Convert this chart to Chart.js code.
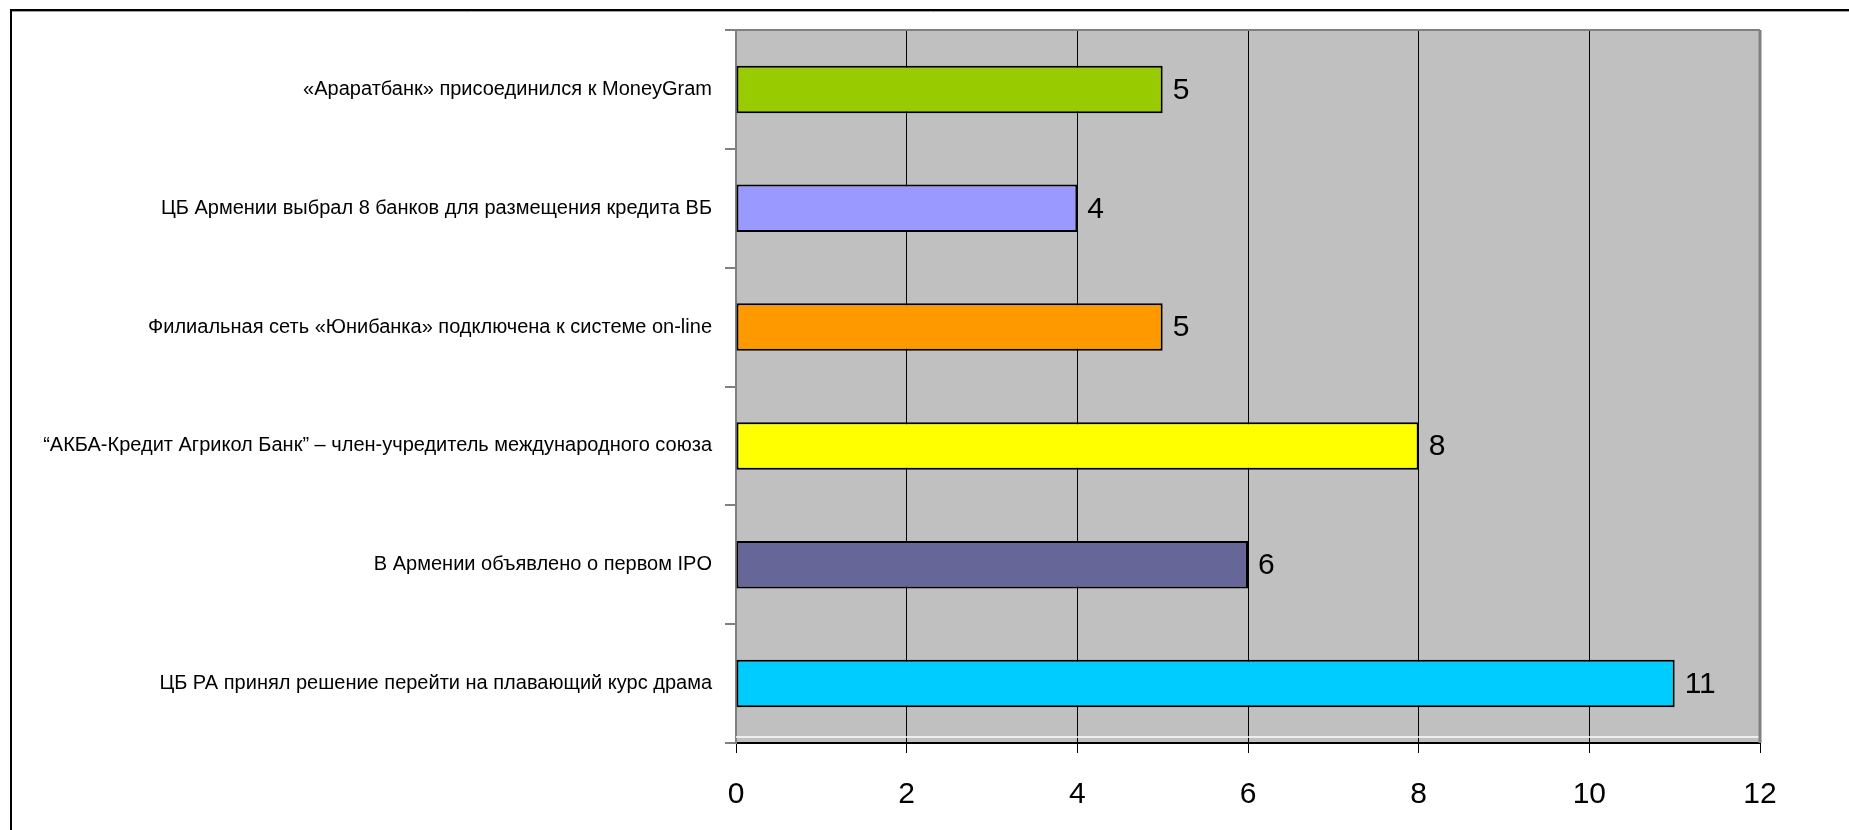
<!DOCTYPE html>
<html>
<head>
<meta charset="utf-8">
<script src="https://cdn.jsdelivr.net/npm/chart.js@4/dist/chart.umd.min.js"></script>
<style>
  html, body { margin: 0; padding: 0; background: #fff; }
  canvas { display: block; }
</style>
</head>
<body>
<canvas id="chart" width="1849" height="830"></canvas>
<script>
// data
const categories = [
  '«Араратбанк» присоединился к MoneyGram',
  'ЦБ Армении выбрал 8 банков для размещения кредита ВБ',
  'Филиальная сеть «Юнибанка» подключена к системе on-line',
  '“АКБА-Кредит Агрикол Банк” – член-учредитель международного союза',
  'В Армении объявлено о первом IPO',
  'ЦБ РА принял решение перейти на плавающий курс драма'
];
const values = [5, 4, 5, 8, 6, 11];
const barColors = ['#99CC00', '#9999FF', '#FF9900', '#FFFF00', '#666699', '#00CCFF'];
const xTicks = [0, 2, 4, 6, 8, 10, 12];

const FONT = "'Liberation Sans', Arial, sans-serif";

// grey plot background, borders and the outer frame
const plotDecor = {
  id: 'plotDecor',
  beforeDraw(chart) {
    const { ctx, chartArea: a } = chart;
    ctx.save();
    ctx.fillStyle = '#C0C0C0';
    ctx.fillRect(a.left, a.top, a.right - a.left, a.bottom - a.top);
    ctx.restore();
  },
  beforeDatasetsDraw(chart) {
    const { ctx, chartArea: a } = chart;
    ctx.save();
    ctx.strokeStyle = '#FFFFFF';
    ctx.lineWidth = 1.5;
    ctx.beginPath();
    ctx.moveTo(a.left, a.bottom - 6);
    ctx.lineTo(a.right, a.bottom - 6);
    ctx.stroke();
    ctx.strokeStyle = '#808080';
    ctx.lineWidth = 2;
    ctx.beginPath();
    ctx.moveTo(a.left, a.top);
    ctx.lineTo(a.right, a.top);
    ctx.stroke();
    ctx.lineWidth = 3;
    ctx.beginPath();
    ctx.moveTo(a.right, a.top);
    ctx.lineTo(a.right, a.bottom);
    ctx.stroke();
    ctx.restore();
  },
  afterDraw(chart) {
    const { ctx, width, height } = chart;
    ctx.save();
    ctx.strokeStyle = '#000';
    ctx.lineWidth = 2;
    ctx.beginPath();
    ctx.moveTo(11, height);
    ctx.lineTo(11, 10);
    ctx.lineTo(width, 10);
    ctx.stroke();
    ctx.strokeStyle = '#A0A0A0';
    ctx.lineWidth = 1;
    ctx.beginPath();
    ctx.moveTo(12, 11.5);
    ctx.lineTo(width, 11.5);
    ctx.stroke();
    ctx.restore();
  }
};

// value labels to the right of each bar
const valueLabels = {
  id: 'valueLabels',
  afterDatasetsDraw(chart) {
    const { ctx } = chart;
    const meta = chart.getDatasetMeta(0);
    ctx.save();
    ctx.fillStyle = '#000';
    ctx.font = '30px ' + FONT;
    ctx.textAlign = 'left';
    ctx.textBaseline = 'middle';
    meta.data.forEach((bar, i) => {
      ctx.fillText(String(values[i]), bar.x + 10, bar.y + 1);
    });
    ctx.restore();
  }
};

new Chart(document.getElementById('chart'), {
  type: 'bar',
  data: {
    labels: categories,
    datasets: [{
      data: values,
      backgroundColor: barColors,
      borderColor: '#000',
      borderWidth: 2,
      borderSkipped: false,
      categoryPercentage: 1,
      barPercentage: 0.4
    }]
  },
  options: {
    indexAxis: 'y',
    responsive: false,
    animation: false,
    devicePixelRatio: 1,
    layout: { padding: { top: 30, right: 89, bottom: 0, left: 12 } },
    plugins: {
      legend: { display: false },
      tooltip: { enabled: false }
    },
    scales: {
      x: {
        min: 0,
        max: 12,
        afterBuildTicks(scale) {
          scale.ticks = xTicks.map(v => ({ value: v }));
        },
        afterFit(scale) { scale.height = 87; },
        grid: {
          color: '#000',
          lineWidth: 1,
          tickLength: 10,
          tickColor: '#000'
        },
        border: { color: '#000', width: 2 },
        ticks: {
          color: '#000',
          font: { family: FONT, size: 30 },
          padding: 24
        }
      },
      y: {
        afterFit(scale) { scale.width = 724; },
        grid: {
          offset: true,
          drawOnChartArea: false,
          tickLength: 11,
          tickColor: '#808080',
          lineWidth: 2
        },
        border: { color: '#808080', width: 2 },
        ticks: {
          color: '#000',
          font: { family: FONT, size: 20 },
          padding: 13
        }
      }
    }
  },
  plugins: [plotDecor, valueLabels]
});
</script>
</body>
</html>
